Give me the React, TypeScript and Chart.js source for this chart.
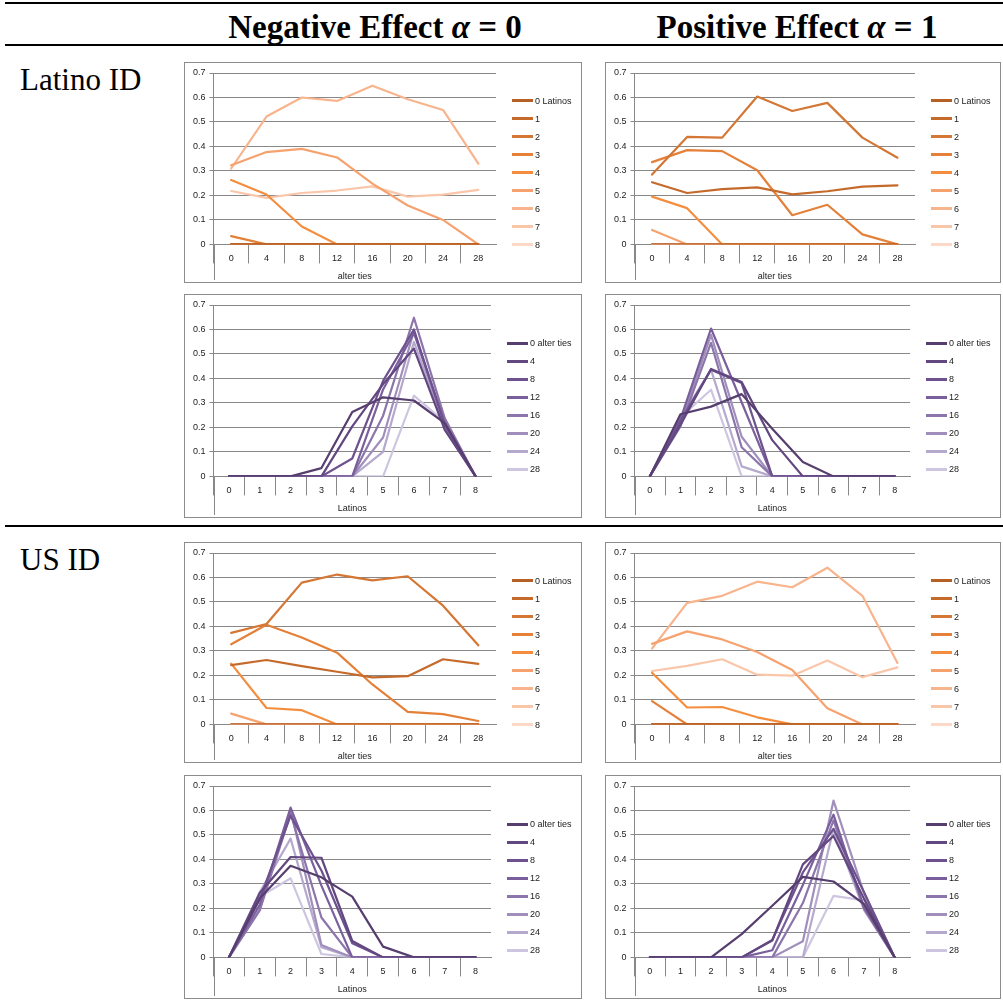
import React, { useEffect, useRef } from 'react';
import { Chart, registerables } from 'chart.js';

Chart.register(...registerables);

// ---------- categories / labels ----------
const ALTER_TIES = ['0', '4', '8', '12', '16', '20', '24', '28'];
const LATINO_COUNTS = ['0', '1', '2', '3', '4', '5', '6', '7', '8'];
const LATINO_SERIES = ['0 Latinos', '1', '2', '3', '4', '5', '6', '7', '8'];
const TIES_SERIES = ['0 alter ties', '4', '8', '12', '16', '20', '24', '28'];
const Y_TICKS = [0, 0.1, 0.2, 0.3, 0.4, 0.5, 0.6, 0.7];

const ORANGE = [
  'rgb(182,96,38)', 'rgb(198,106,44)', 'rgb(212,118,52)', 'rgb(228,128,56)', 'rgb(244,142,62)',
  'rgb(246,162,110)', 'rgb(248,180,140)', 'rgb(250,198,170)', 'rgb(252,216,198)',
];
const PURPLE = [
  'rgb(86,62,110)', 'rgb(98,71,128)', 'rgb(110,82,142)', 'rgb(122,95,156)',
  'rgb(140,117,171)', 'rgb(160,142,187)', 'rgb(182,169,206)', 'rgb(206,198,225)',
];

// ---------- data: rows = number of Latinos (0..8), columns = alter ties (0..28) ----------
const LATINO_ID_NEGATIVE: number[][] = [
  [0, 0, 0, 0, 0, 0, 0, 0],
  [0, 0, 0, 0, 0, 0, 0, 0],
  [0, 0, 0, 0, 0, 0, 0, 0],
  [0.034, 0, 0, 0, 0, 0, 0, 0],
  [0.263, 0.204, 0.073, 0, 0, 0, 0, 0],
  [0.323, 0.377, 0.39, 0.355, 0.248, 0.159, 0.1, 0],
  [0.31, 0.522, 0.6, 0.586, 0.648, 0.593, 0.549, 0.33],
  [0.218, 0.19, 0.21, 0.22, 0.237, 0.195, 0.203, 0.223],
  [0, 0, 0, 0, 0, 0, 0, 0],
];
const LATINO_ID_POSITIVE: number[][] = [
  [0, 0, 0, 0, 0, 0, 0, 0],
  [0.254, 0.21, 0.226, 0.233, 0.204, 0.217, 0.236, 0.241],
  [0.285, 0.439, 0.436, 0.604, 0.545, 0.578, 0.436, 0.354],
  [0.336, 0.385, 0.381, 0.303, 0.119, 0.162, 0.041, 0],
  [0.195, 0.148, 0, 0, 0, 0, 0, 0],
  [0.059, 0, 0, 0, 0, 0, 0, 0],
  [0, 0, 0, 0, 0, 0, 0, 0],
  [0, 0, 0, 0, 0, 0, 0, 0],
  [0, 0, 0, 0, 0, 0, 0, 0],
];
const US_ID_NEGATIVE: number[][] = [
  [0, 0, 0, 0, 0, 0, 0, 0],
  [0.242, 0.263, 0.238, 0.215, 0.192, 0.197, 0.266, 0.247],
  [0.374, 0.41, 0.579, 0.612, 0.588, 0.605, 0.485, 0.323],
  [0.327, 0.407, 0.355, 0.293, 0.163, 0.051, 0.042, 0.014],
  [0.248, 0.067, 0.058, 0, 0, 0, 0, 0],
  [0.044, 0, 0, 0, 0, 0, 0, 0],
  [0, 0, 0, 0, 0, 0, 0, 0],
  [0, 0, 0, 0, 0, 0, 0, 0],
  [0, 0, 0, 0, 0, 0, 0, 0],
];
const US_ID_POSITIVE: number[][] = [
  [0, 0, 0, 0, 0, 0, 0, 0],
  [0, 0, 0, 0, 0, 0, 0, 0],
  [0, 0, 0, 0, 0, 0, 0, 0],
  [0.095, 0, 0, 0, 0, 0, 0, 0],
  [0.211, 0.069, 0.071, 0.029, 0, 0, 0, 0],
  [0.329, 0.38, 0.347, 0.296, 0.222, 0.066, 0, 0],
  [0.31, 0.496, 0.525, 0.583, 0.56, 0.64, 0.525, 0.251],
  [0.218, 0.239, 0.266, 0.203, 0.199, 0.261, 0.193, 0.233],
  [0, 0, 0, 0, 0, 0, 0, 0],
];

const GRID = '#888888';
const TEXT = '#222222';
const FONT = 'Liberation Sans, Arial, sans-serif';
const FS = 9;

const axisExtend = {
  id: 'axisExtend',
  afterDraw(chart: any) {
    const { ctx, chartArea } = chart;
    ctx.save();
    ctx.strokeStyle = GRID;
    ctx.lineWidth = 1;
    const x = Math.round(chartArea.left) + 0.5;
    ctx.beginPath();
    ctx.moveTo(x, chartArea.bottom);
    ctx.lineTo(x, chart.height - 2);
    ctx.stroke();
    ctx.restore();
  },
};

type Mode = 'ties' | 'latinos';

function ChartBox(props: { left: number; top: number; width: number; height: number; matrix: number[][]; mode: Mode }) {
  const { left, top, width, height, matrix, mode } = props;
  const ref = useRef<HTMLCanvasElement>(null);
  const innerW = width - 2;
  const innerH = height - 2;
  const byTies = mode === 'ties';
  const labels = byTies ? ALTER_TIES : LATINO_COUNTS;
  const names = byTies ? LATINO_SERIES : TIES_SERIES;
  const colors = byTies ? ORANGE : PURPLE;
  const series = byTies ? matrix : ALTER_TIES.map((_, k) => matrix.map((row) => row[k]));
  const padRight = byTies ? 85 : 90;
  const padBottom = byTies ? 0 : 3;

  useEffect(() => {
    if (!ref.current) return;
    const chart = new Chart(ref.current, {
      type: 'line',
      data: {
        labels,
        datasets: series.map((d, i) => ({
          label: names[i],
          data: d,
          borderColor: colors[i],
          backgroundColor: colors[i],
          borderWidth: 2.2,
          pointRadius: 0,
          tension: 0,
          borderJoinStyle: 'round' as const,
          borderCapStyle: 'round' as const,
        })),
      },
      options: {
        animation: false,
        responsive: false,
        events: [],
        layout: { padding: { left: 4, top: 10, right: padRight, bottom: padBottom } },
        plugins: { legend: { display: false }, tooltip: { enabled: false } },
        scales: {
          x: {
            type: 'category',
            offset: true,
            grid: {
              offset: true,
              drawOnChartArea: false,
              drawTicks: true,
              tickLength: 19,
              color: (c: any) => (c.type === 'tick' ? GRID : 'rgba(0,0,0,0)'),
            },
            border: { display: true, color: GRID },
            ticks: { font: { family: FONT, size: FS }, color: TEXT, maxRotation: 0, autoSkip: false, padding: -10 },
            title: {
              display: true,
              text: byTies ? 'alter ties' : 'Latinos',
              font: { family: FONT, size: FS },
              color: TEXT,
              padding: { top: 17, bottom: 0 },
            },
          },
          y: {
            min: 0,
            max: 0.7,
            afterBuildTicks: (s: any) => {
              s.ticks = Y_TICKS.map((v) => ({ value: v }));
            },
            grid: { color: GRID, tickLength: 4, drawTicks: true },
            border: { display: true, color: GRID },
            ticks: { font: { family: FONT, size: FS }, color: TEXT, padding: 4 },
          },
        },
      },
      plugins: [axisExtend],
    } as any);
    return () => chart.destroy();
  }, []);

  return (
    <div
      style={{
        position: 'absolute',
        left,
        top,
        width,
        height,
        boxSizing: 'border-box',
        border: '1px solid #8c8c8c',
        background: '#fff',
      }}
    >
      <canvas ref={ref} width={innerW} height={innerH} style={{ display: 'block', width: innerW, height: innerH }} />
      <div
        style={{
          position: 'absolute',
          left: innerW - padRight + 16,
          top: 0,
          height: innerH,
          display: 'flex',
          flexDirection: 'column',
          justifyContent: 'center',
          fontFamily: FONT,
          fontSize: FS,
          color: TEXT,
        }}
      >
        {names.map((n, i) => (
          <div key={i} style={{ height: 18, display: 'flex', alignItems: 'center', whiteSpace: 'nowrap' }}>
            <span style={{ display: 'inline-block', width: 21, height: 3, background: colors[i] }} />
            <span style={{ marginLeft: 2 }}>{n}</span>
          </div>
        ))}
      </div>
    </div>
  );
}

const hr = (top: number) => (
  <div style={{ position: 'absolute', left: 5, top, width: 998, height: 2, background: '#000' }} />
);

function Header(props: { center: number; text: string; digit: string }) {
  return (
    <div
      style={{
        position: 'absolute',
        left: props.center - 200,
        width: 400,
        top: 11,
        textAlign: 'center',
        fontFamily: 'Liberation Serif, Times New Roman, serif',
        fontWeight: 'bold',
        fontSize: 33,
        lineHeight: '33px',
        whiteSpace: 'nowrap',
      }}
    >
      {props.text} <span style={{ fontStyle: 'italic' }}>α</span> = {props.digit}
    </div>
  );
}

function RowLabel(props: { top: number; text: string }) {
  return (
    <div
      style={{
        position: 'absolute',
        left: 20,
        top: props.top,
        fontFamily: 'Liberation Serif, Times New Roman, serif',
        fontSize: 31,
        lineHeight: '31px',
        whiteSpace: 'nowrap',
      }}
    >
      {props.text}
    </div>
  );
}

export default function App() {
  const LX = 184;
  const RX = 605;
  const LW = 398;
  const RW = 396;
  return (
    <div style={{ position: 'absolute', left: 0, top: 0, width: 1003, height: 1001, background: '#fff', overflow: 'hidden' }}>
      {hr(2)}
      <Header center={375} text="Negative Effect" digit="0" />
      <Header center={797} text="Positive Effect" digit="1" />
      {hr(44)}
      <RowLabel top={64} text="Latino ID" />
      <ChartBox left={LX} top={62} width={LW} height={221} matrix={LATINO_ID_NEGATIVE} mode="ties" />
      <ChartBox left={RX} top={62} width={RW} height={221} matrix={LATINO_ID_POSITIVE} mode="ties" />
      <ChartBox left={LX} top={294} width={LW} height={224} matrix={LATINO_ID_NEGATIVE} mode="latinos" />
      <ChartBox left={RX} top={294} width={RW} height={224} matrix={LATINO_ID_POSITIVE} mode="latinos" />
      {hr(525)}
      <RowLabel top={544} text="US ID" />
      <ChartBox left={LX} top={542} width={LW} height={221} matrix={US_ID_NEGATIVE} mode="ties" />
      <ChartBox left={RX} top={542} width={RW} height={221} matrix={US_ID_POSITIVE} mode="ties" />
      <ChartBox left={LX} top={775} width={LW} height={224} matrix={US_ID_NEGATIVE} mode="latinos" />
      <ChartBox left={RX} top={775} width={RW} height={224} matrix={US_ID_POSITIVE} mode="latinos" />
    </div>
  );
}
